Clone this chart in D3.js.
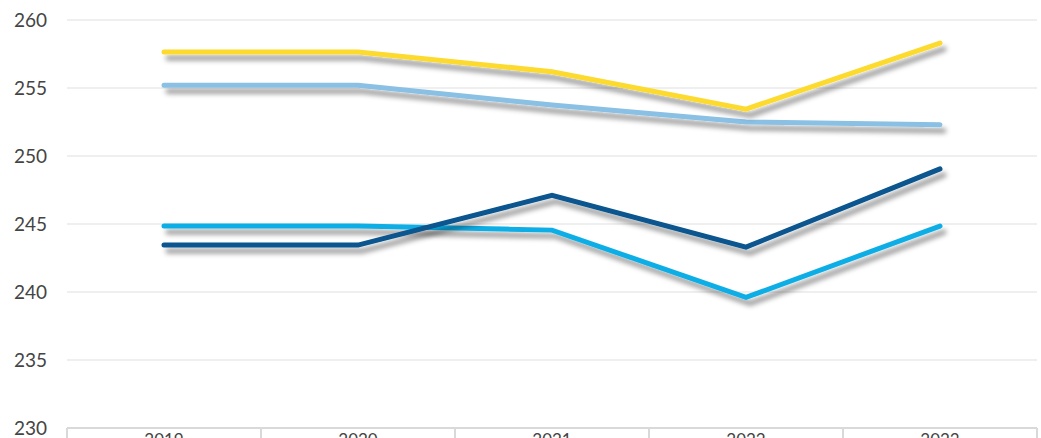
<!DOCTYPE html>
<html><head><meta charset="utf-8">
<script src="https://cdn.jsdelivr.net/npm/d3@7"></script>
<style>html,body{margin:0;padding:0;background:#fff;overflow:hidden}</style>
</head><body>
<svg id="chart" width="1041" height="438"></svg>
<script>
const categories = ["2019", "2020", "2021", "2022", "2023"];
const yTicks = [230, 235, 240, 245, 250, 255, 260];
const seriesYellow = [257.65, 257.65, 256.2, 253.45, 258.3];
const seriesLightBlue = [255.2, 255.2, 253.75, 252.5, 252.3];
const seriesCyan = [244.85, 244.85, 244.55, 239.6, 244.85];
const seriesDarkBlue = [243.45, 243.45, 247.1, 243.3, 249.05];
const series = [
  {name: "Light blue", values: seriesLightBlue, color: "#89C0E4"},
  {name: "Yellow", values: seriesYellow, color: "#FDDA2D"},
  {name: "Cyan", values: seriesCyan, color: "#0BADE6"},
  {name: "Dark blue", values: seriesDarkBlue, color: "#07558E"}
];

(function () {
const svg = d3.select("#chart");
const mLeft = 67, mRight = 1037, mTop = 20, mBottom = 428;
const x = d3.scaleBand().domain(categories).range([mLeft, mRight]).padding(0);
const y = d3.scaleLinear().domain([230, 260]).range([mBottom, mTop]);

const defs = svg.append("defs");
const f = defs.append("filter").attr("id", "shadow").attr("x", "-10%").attr("y", "-50%").attr("width", "120%").attr("height", "200%");
f.append("feDropShadow").attr("dx", 4).attr("dy", 6).attr("stdDeviation", 2.5)
  .attr("flood-color", "#000").attr("flood-opacity", 0.4);

// gridlines
svg.append("g").selectAll("line").data(yTicks.filter(d => d !== 230)).join("line")
  .attr("x1", mLeft).attr("x2", mRight)
  .attr("y1", d => y(d)).attr("y2", d => y(d))
  .attr("stroke", "#efefef").attr("stroke-width", 2);

// y labels
const yAxis = svg.append("g").attr("transform", `translate(${mLeft},0)`)
  .call(d3.axisLeft(y).tickValues(yTicks).tickSize(0).tickPadding(20));
yAxis.select(".domain").remove();
yAxis.selectAll("text").attr("font-family", "Lato, sans-serif").attr("font-size", 19)
  .attr("fill", "#444").attr("dy", "0.32em").attr("x", -20);

// x axis
const xAxis = svg.append("g").attr("transform", `translate(0,${mBottom})`)
  .call(d3.axisBottom(x).tickSize(0).tickPadding(10));
xAxis.select(".domain").attr("stroke", "#d9d9d9").attr("stroke-width", 2)
  .attr("d", `M${mLeft},0H${mRight}`);
xAxis.selectAll("text").attr("font-family", "Lato, sans-serif").attr("font-size", 17)
  .attr("fill", "#444").attr("y", 18).attr("dy", "0");
const bounds = categories.map(c => x(c)).concat([mRight]);
xAxis.selectAll("line.div").data(bounds).join("line").attr("class", "div")
  .attr("x1", d => d).attr("x2", d => d).attr("y1", 0).attr("y2", 20)
  .attr("stroke", "#d9d9d9").attr("stroke-width", 2);

const cx = c => x(c) + x.bandwidth() / 2;
const line = d3.line().x((d, i) => cx(categories[i])).y(d => y(d));

svg.append("g").selectAll("path").data(series).join("path")
  .attr("d", d => line(d.values))
  .attr("fill", "none").attr("stroke", d => d.color).attr("stroke-width", 5)
  .attr("stroke-linecap", "round").attr("stroke-linejoin", "miter")
  .attr("filter", "url(#shadow)");
})();
</script>
</body></html>
